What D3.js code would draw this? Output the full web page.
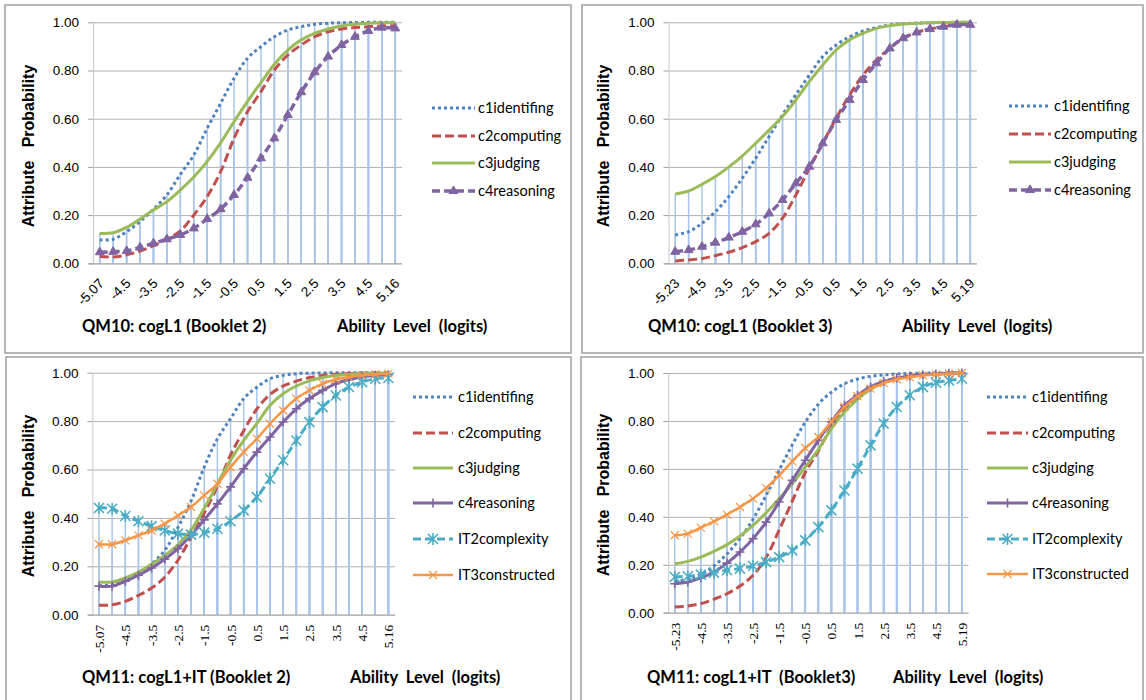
<!DOCTYPE html>
<html>
<head>
<meta charset="utf-8">
<script src="https://cdn.jsdelivr.net/npm/d3@7"></script>
<style>
  body { margin: 0; background: #fff; }
  svg { display: block; }
  text { white-space: pre; }
</style>
</head>
<body>
<svg id="chart" width="1146" height="700"></svg>
<script>
// Ability levels (logits) for the two booklets
const abilityB2 = ["-5.07","-5","-4.5","-4","-3.5","-3","-2.5","-2","-1.5","-1","-0.5","0","0.5","1","1.5","2","2.5","3","3.5","4","4.5","5","5.16"];
const abilityB3 = ["-5.23","-5","-4.5","-4","-3.5","-3","-2.5","-2","-1.5","-1","-0.5","0","0.5","1","1.5","2","2.5","3","3.5","4","4.5","5","5.19"];
const tickLabelsB2 = ["-5.07","-4.5","-3.5","-2.5","-1.5","-0.5","0.5","1.5","2.5","3.5","4.5","5.16"];
const tickLabelsB3 = ["-5.23","-4.5","-3.5","-2.5","-1.5","-0.5","0.5","1.5","2.5","3.5","4.5","5.19"];
const probTicks = [0, 0.2, 0.4, 0.6, 0.8, 1.0];

// QM10: cogL1, Booklet 2
const qm10b2_c1 = [0.097,0.100,0.131,0.173,0.224,0.284,0.369,0.449,0.560,0.664,0.768,0.851,0.899,0.940,0.968,0.982,0.992,0.996,0.998,0.999,1.000,1.000,1.000];
const qm10b2_c2 = [0.028,0.026,0.035,0.051,0.073,0.100,0.134,0.200,0.277,0.380,0.519,0.629,0.712,0.802,0.864,0.906,0.940,0.961,0.972,0.978,0.982,0.985,0.986];
const qm10b2_c3 = [0.124,0.127,0.149,0.184,0.221,0.256,0.304,0.358,0.423,0.500,0.588,0.672,0.750,0.826,0.885,0.927,0.954,0.972,0.985,0.992,0.996,0.998,0.999];
const qm10b2_c4 = [0.046,0.048,0.051,0.066,0.083,0.100,0.118,0.145,0.184,0.225,0.284,0.355,0.436,0.519,0.616,0.710,0.793,0.858,0.906,0.940,0.964,0.978,0.975];

// QM10: cogL1, Booklet 3
const qm10b3_c1 = [0.118,0.131,0.166,0.214,0.277,0.353,0.436,0.526,0.616,0.700,0.781,0.858,0.906,0.940,0.964,0.978,0.989,0.994,0.997,0.998,0.999,1.000,1.000];
const qm10b3_c2 = [0.010,0.014,0.020,0.032,0.046,0.065,0.090,0.124,0.187,0.284,0.394,0.498,0.602,0.698,0.781,0.844,0.892,0.934,0.958,0.972,0.982,0.989,0.992];
const qm10b3_c3 = [0.288,0.300,0.328,0.360,0.400,0.445,0.498,0.553,0.609,0.678,0.754,0.823,0.885,0.927,0.954,0.975,0.986,0.993,0.996,0.998,0.999,1.000,1.000];
const qm10b3_c4 = [0.048,0.055,0.069,0.086,0.107,0.131,0.162,0.207,0.263,0.332,0.401,0.498,0.595,0.678,0.761,0.830,0.892,0.934,0.958,0.972,0.982,0.990,0.990];

// QM11: cogL1+IT, Booklet 2
const qm11b2_c1  = [0.120,0.125,0.140,0.170,0.210,0.266,0.360,0.470,0.610,0.727,0.810,0.893,0.940,0.975,0.989,0.996,0.998,0.999,1.000,1.000,1.000,1.000,1.000];
const qm11b2_c2  = [0.039,0.041,0.055,0.080,0.110,0.155,0.225,0.320,0.420,0.530,0.660,0.760,0.850,0.910,0.945,0.965,0.980,0.988,0.993,0.996,0.998,0.999,0.999];
const qm11b2_c3  = [0.135,0.135,0.152,0.176,0.208,0.245,0.289,0.350,0.440,0.540,0.638,0.720,0.790,0.865,0.913,0.945,0.966,0.980,0.988,0.993,0.996,0.997,0.999];
const qm11b2_c4  = [0.118,0.118,0.138,0.163,0.193,0.229,0.273,0.328,0.392,0.458,0.528,0.603,0.672,0.734,0.796,0.851,0.893,0.927,0.955,0.972,0.982,0.989,0.992];
const qm11b2_it2 = [0.441,0.438,0.408,0.386,0.366,0.348,0.335,0.331,0.339,0.355,0.386,0.431,0.486,0.562,0.638,0.720,0.796,0.858,0.906,0.941,0.961,0.975,0.978];
const qm11b2_it3 = [0.291,0.291,0.307,0.328,0.348,0.376,0.410,0.445,0.493,0.541,0.610,0.672,0.727,0.789,0.844,0.893,0.927,0.955,0.972,0.982,0.989,0.993,0.996];

// QM11: cogL1+IT, Booklet 3
const qm11b3_c1  = [0.130,0.140,0.160,0.195,0.245,0.310,0.390,0.490,0.595,0.700,0.795,0.870,0.920,0.955,0.975,0.986,0.992,0.996,0.998,0.999,1.000,1.000,1.000];
const qm11b3_c2  = [0.024,0.028,0.038,0.056,0.079,0.111,0.156,0.230,0.345,0.465,0.585,0.675,0.775,0.851,0.900,0.935,0.960,0.976,0.986,0.993,0.996,0.999,1.000];
const qm11b3_c3  = [0.204,0.214,0.232,0.256,0.284,0.320,0.364,0.417,0.476,0.538,0.608,0.681,0.768,0.837,0.890,0.932,0.960,0.976,0.986,0.993,0.996,0.999,1.000];
const qm11b3_c4  = [0.121,0.128,0.145,0.170,0.207,0.253,0.309,0.378,0.462,0.552,0.636,0.719,0.796,0.865,0.907,0.942,0.965,0.979,0.987,0.993,0.996,0.999,1.000];
const qm11b3_it2 = [0.149,0.152,0.159,0.167,0.177,0.184,0.195,0.211,0.232,0.260,0.302,0.357,0.427,0.510,0.601,0.698,0.789,0.858,0.907,0.942,0.960,0.969,0.976];
const qm11b3_it3 = [0.323,0.330,0.355,0.381,0.409,0.441,0.476,0.520,0.573,0.631,0.687,0.733,0.796,0.858,0.903,0.935,0.958,0.974,0.983,0.990,0.994,0.997,1.000];

// Line styles per attribute
const styles = {
  c1identifing:   { color: "#4f81bd", width: 3,   dash: "3,3" },
  c2computing:    { color: "#c0504d", width: 3,   dash: "9,4" },
  c3judging:      { color: "#9bbb59", width: 3,   dash: null },
  c4reasoning:    { color: "#8064a2", width: 3,   dash: null, marker: "plus" },
  c4reasoningTri: { color: "#8064a2", width: 3.5, dash: "8,4", marker: "triangle" },
  IT2complexity:  { color: "#4bacc6", width: 3,   dash: "8,4", marker: "asterisk" },
  IT3constructed: { color: "#f79646", width: 2.5, dash: null, marker: "cross" }
};

const panels = [
  {
    box: [5, 5, 571, 353], xr: [93, 402], yr: [263.3, 22.3],
    cats: abilityB2, ticks: tickLabelsB2, rotate: -45,
    yTitle: [28, 146], title: "QM10: cogL1 (Booklet 2)", titlePos: [82, 332], abilityPos: [337, 332],
    legend: { x1: 432, x2: 475, tx: 478, rows: [108, 136, 163, 191] },
    series: [
      { name: "c1identifing", style: "c1identifing", values: qm10b2_c1 },
      { name: "c2computing", style: "c2computing", values: qm10b2_c2 },
      { name: "c3judging", style: "c3judging", values: qm10b2_c3 },
      { name: "c4reasoning", style: "c4reasoningTri", values: qm10b2_c4 }
    ]
  },
  {
    box: [582, 5, 1143, 353], xr: [668.5, 977], yr: [263.3, 22.3],
    cats: abilityB3, ticks: tickLabelsB3, rotate: -45,
    yTitle: [603, 146], title: "QM10: cogL1 (Booklet 3)", titlePos: [648, 332], abilityPos: [902, 332],
    legend: { x1: 1009, x2: 1051, tx: 1054, rows: [106, 134, 162, 190] },
    series: [
      { name: "c1identifing", style: "c1identifing", values: qm10b3_c1 },
      { name: "c2computing", style: "c2computing", values: qm10b3_c2 },
      { name: "c3judging", style: "c3judging", values: qm10b3_c3 },
      { name: "c4reasoning", style: "c4reasoningTri", values: qm10b3_c4 }
    ]
  },
  {
    box: [6, 357, 571, 702], xr: [92.4, 395], yr: [614.7, 372.7],
    cats: abilityB2, ticks: tickLabelsB2, rotate: -90,
    yTitle: [28, 496], title: "QM11: cogL1+IT (Booklet 2)", titlePos: [82, 683], abilityPos: [350, 683],
    legend: { x1: 413, x2: 453, tx: 458, rows: [397, 433, 468, 503, 539, 575] },
    series: [
      { name: "c1identifing", style: "c1identifing", values: qm11b2_c1 },
      { name: "c2computing", style: "c2computing", values: qm11b2_c2 },
      { name: "c3judging", style: "c3judging", values: qm11b2_c3 },
      { name: "c4reasoning", style: "c4reasoning", values: qm11b2_c4 },
      { name: "IT2complexity", style: "IT2complexity", values: qm11b2_it2 },
      { name: "IT3constructed", style: "IT3constructed", values: qm11b2_it3 }
    ]
  },
  {
    box: [581, 357, 1143, 702], xr: [668.2, 968.5], yr: [612.7, 373],
    cats: abilityB3, ticks: tickLabelsB3, rotate: -90,
    yTitle: [603, 495], title: "QM11: cogL1+IT  (Booklet3)", titlePos: [647, 683], abilityPos: [893, 683],
    legend: { x1: 987, x2: 1028, tx: 1032, rows: [397, 433, 468, 503, 539, 574] },
    series: [
      { name: "c1identifing", style: "c1identifing", values: qm11b3_c1 },
      { name: "c2computing", style: "c2computing", values: qm11b3_c2 },
      { name: "c3judging", style: "c3judging", values: qm11b3_c3 },
      { name: "c4reasoning", style: "c4reasoning", values: qm11b3_c4 },
      { name: "IT2complexity", style: "IT2complexity", values: qm11b3_it2 },
      { name: "IT3constructed", style: "IT3constructed", values: qm11b3_it3 }
    ]
  }
];

const svg = d3.select("#chart");

// marker glyphs, centred on (0,0)
function markerPath(kind) {
  switch (kind) {
    case "triangle": return d3.symbol(d3.symbolTriangle, 34)();
    case "plus": return "M-4.5,0H4.5M0,-4.5V4.5";
    case "cross": return "M-4,-4L4,4M-4,4L4,-4";
    case "asterisk": return "M-5,-5L5,5M-5,5L5,-5M0,-6V6";
  }
  return null;
}
function drawMarker(sel, st) {
  const p = markerPath(st.marker);
  if (!p) return;
  if (st.marker === "triangle") {
    sel.append("path").attr("d", p).attr("fill", st.color).attr("stroke", st.color).attr("stroke-width", 1);
  } else {
    sel.append("path").attr("d", p).attr("fill", "none").attr("stroke", st.color)
      .attr("stroke-width", st.marker === "cross" ? 1.2 : 1.6);
  }
}

panels.forEach(p => {
  const g = svg.append("g");
  const [bx1, by1, bx2, by2] = p.box;
  g.append("rect").attr("x", bx1).attr("y", by1).attr("width", bx2 - bx1).attr("height", by2 - by1)
    .attr("fill", "#fff").attr("stroke", "#a0a0a0").attr("stroke-width", 1.5);

  const x = d3.scaleBand().domain(p.cats).range(p.xr).paddingInner(0).paddingOuter(0);
  const cx = d => x(d) + x.bandwidth() / 2;
  const y = d3.scaleLinear().domain([0, 1]).range(p.yr);

  // horizontal gridlines
  g.append("g").attr("transform", `translate(${p.xr[0]},0)`)
    .call(d3.axisLeft(y).tickValues(probTicks.slice(1)).tickSize(-(p.xr[1] - p.xr[0])).tickFormat(""))
    .call(a => a.select(".domain").remove())
    .call(a => a.selectAll("line").attr("stroke", "#b0b0b0").attr("stroke-width", 1));

  // y axis
  g.append("g").attr("transform", `translate(${p.xr[0]},0)`)
    .call(d3.axisLeft(y).tickValues(probTicks).tickFormat(d3.format(".2f")).tickSize(5).tickPadding(9).tickSizeOuter(0))
    .call(a => a.select(".domain").attr("stroke", "#c8c8c8"))
    .call(a => a.selectAll("line").attr("stroke", "#a0a0a0"))
    .call(a => a.selectAll("text").attr("font-family", "Liberation Sans, Arial, sans-serif")
      .attr("font-size", 13.5).attr("fill", "#000"));

  // drop lines from every point down to the axis
  const drops = g.append("g");
  p.series.forEach(s => {
    drops.selectAll(null).data(s.values).join("line")
      .attr("x1", (v, i) => cx(p.cats[i])).attr("x2", (v, i) => cx(p.cats[i]))
      .attr("y1", v => y(v)).attr("y2", y(0))
      .attr("stroke", "#aac5ea").attr("stroke-width", 1.5);
  });

  // x axis
  const xa = g.append("g").attr("transform", `translate(0,${y(0)})`)
    .call(d3.axisBottom(x).tickValues(p.ticks).tickSize(0).tickSizeOuter(0).tickPadding(0));
  xa.select(".domain").attr("stroke", "#a0a0a0").attr("stroke-width", 1.2)
    .attr("d", `M${p.xr[0] - 4},0.5H${p.xr[1]}`);
  if (p.rotate === -45) {
    xa.selectAll("text").attr("text-anchor", "end").attr("dy", null).attr("y", 0)
      .attr("transform", "translate(5,21) rotate(-45)")
      .attr("font-family", "Liberation Sans, Arial, sans-serif").attr("font-size", 13.5).attr("fill", "#000");
  } else {
    xa.selectAll("text").attr("text-anchor", "end").attr("dy", null).attr("y", 0)
      .attr("transform", "translate(5,10) rotate(-90)")
      .attr("font-family", "Liberation Serif, Times New Roman, serif").attr("font-size", 13.5).attr("fill", "#000");
  }

  // series lines and markers
  const line = d3.line().x((v, i) => cx(p.cats[i])).y(v => y(v)).curve(d3.curveCatmullRom.alpha(0.5));
  p.series.forEach(s => {
    const st = styles[s.style];
    g.append("path").datum(s.values).attr("d", line)
      .attr("fill", "none").attr("stroke", st.color).attr("stroke-width", st.width)
      .attr("stroke-dasharray", st.dash).attr("stroke-linejoin", "round");
    if (st.marker) {
      g.append("g").selectAll("g").data(s.values).join("g")
        .attr("transform", (v, i) => `translate(${cx(p.cats[i])},${y(v)})`)
        .each(function () { drawMarker(d3.select(this), st); });
    }
  });

  // legend
  const lg = g.append("g");
  p.series.forEach((s, i) => {
    const st = styles[s.style];
    const ry = p.legend.rows[i];
    lg.append("line").attr("x1", p.legend.x1).attr("x2", p.legend.x2).attr("y1", ry).attr("y2", ry)
      .attr("stroke", st.color).attr("stroke-width", st.width).attr("stroke-dasharray", st.dash);
    if (st.marker) {
      drawMarker(lg.append("g").attr("transform", `translate(${(p.legend.x1 + p.legend.x2) / 2},${ry})`), st);
    }
    lg.append("text").attr("x", p.legend.tx).attr("y", ry).attr("dy", "0.35em")
      .attr("font-family", "Lato, sans-serif").attr("font-size", 14.5).attr("fill", "#000").text(s.name);
  });

  // titles
  g.append("text").attr("transform", `translate(${p.yTitle[0]},${p.yTitle[1]}) rotate(-90)`)
    .attr("text-anchor", "middle").attr("dy", "0.35em")
    .attr("font-family", "Liberation Sans, Arial, sans-serif").attr("font-weight", "bold").attr("font-size", 16)
    .text("Attribute   Probability");
  g.append("text").attr("x", p.titlePos[0]).attr("y", p.titlePos[1])
    .attr("font-family", "Lato, sans-serif").attr("font-weight", "bold").attr("font-size", 16.5)
    .text(p.title);
  g.append("text").attr("x", p.abilityPos[0]).attr("y", p.abilityPos[1])
    .attr("font-family", "Lato, sans-serif").attr("font-weight", "bold").attr("font-size", 16.5)
    .text("Ability  Level  (logits)");
});
</script>
</body>
</html>
